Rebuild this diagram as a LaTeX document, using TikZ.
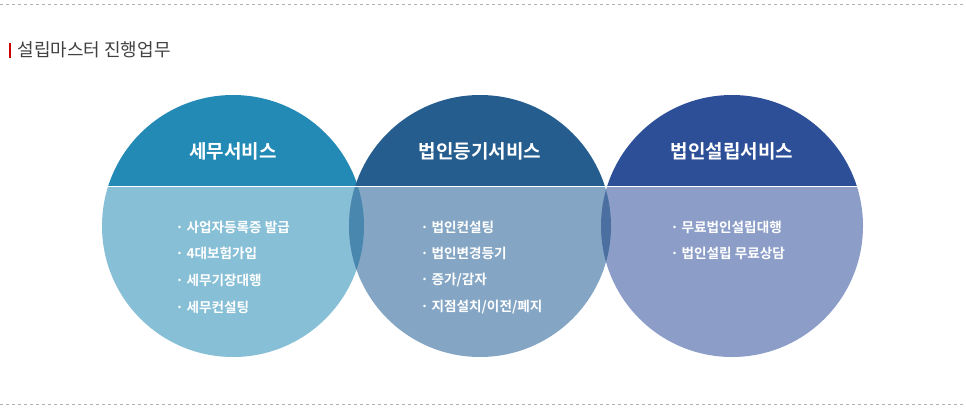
\documentclass[tikz,border=0pt]{standalone}
\usepackage{fontspec}
\setmainfont{Noto Sans CJK KR}[BoldFont={Noto Sans CJK KR Bold}]
\begin{document}
\begin{tikzpicture}[x=1pt,y=-1pt,
  head/.style={text=white,font=\fontsize{19}{21}\selectfont\bfseries},
  item/.style={text=white,font=\fontsize{13.6}{15}\selectfont\bfseries,anchor=west},
  dash line/.style={draw=gray!60,dashed,line width=0.6pt}]
\useasboundingbox (0,0) rectangle (966,408);
\definecolor{aT}{HTML}{2389B5}\definecolor{aB}{HTML}{86BFD6}
\definecolor{bT}{HTML}{245D8E}\definecolor{bB}{HTML}{84A6C4}
\definecolor{cT}{HTML}{2D4F97}\definecolor{cB}{HTML}{8C9EC8}
\definecolor{abB}{HTML}{4A87AE}\definecolor{bcB}{HTML}{4A6FA0}
\coordinate (c1) at (233,226);\coordinate (c2) at (480,226);\coordinate (c3) at (732,226);
\def\R{131}
\begin{scope}\clip (0,187) rectangle (966,408);
\fill[aB] (c1) circle (\R);\fill[cB] (c3) circle (\R);\fill[bB] (c2) circle (\R);
\begin{scope}\clip (c1) circle (\R);\fill[abB] (c2) circle (\R);\end{scope}
\begin{scope}\clip (c3) circle (\R);\fill[bcB] (c2) circle (\R);\end{scope}
\end{scope}
\begin{scope}\clip (0,0) rectangle (966,185);
\fill[aT] (c1) circle (\R);\fill[cT] (c3) circle (\R);\fill[bT] (c2) circle (\R);
\end{scope}
\draw[dash line] (0,4) -- (966,4);
\draw[dash line] (0,404) -- (966,404);
\fill[red!80!black] (9,43) rectangle (11,58);
\node[anchor=west,text=black!75,font=\fontsize{18}{20}\selectfont] (title) at (14,50) {설립마스터 진행업무};
\node[head] (h1) at (233,151) {세무서비스};
\node[head] (h2) at (480,151) {법인등기서비스};
\node[head] (h3) at (732,151) {법인설립서비스};
\node[item] (a1) at (172,227) {· 사업자등록증 발급};
\node[item] (a2) at (172,253) {· 4대보험가입};
\node[item] (a3) at (172,280) {· 세무기장대행};
\node[item] (a4) at (172,307) {· 세무컨설팅};
\node[item] (b1) at (417,227) {· 법인컨설팅};
\node[item] (b2) at (417,253) {· 법인변경등기};
\node[item] (b3) at (417,280) {· 증가/감자};
\node[item] (b4) at (417,307) {· 지점설치/이전/폐지};
\node[item] (c1t) at (667,227) {· 무료법인설립대행};
\node[item] (c2t) at (667,253) {· 법인설립 무료상담};
\end{tikzpicture}
\end{document}
